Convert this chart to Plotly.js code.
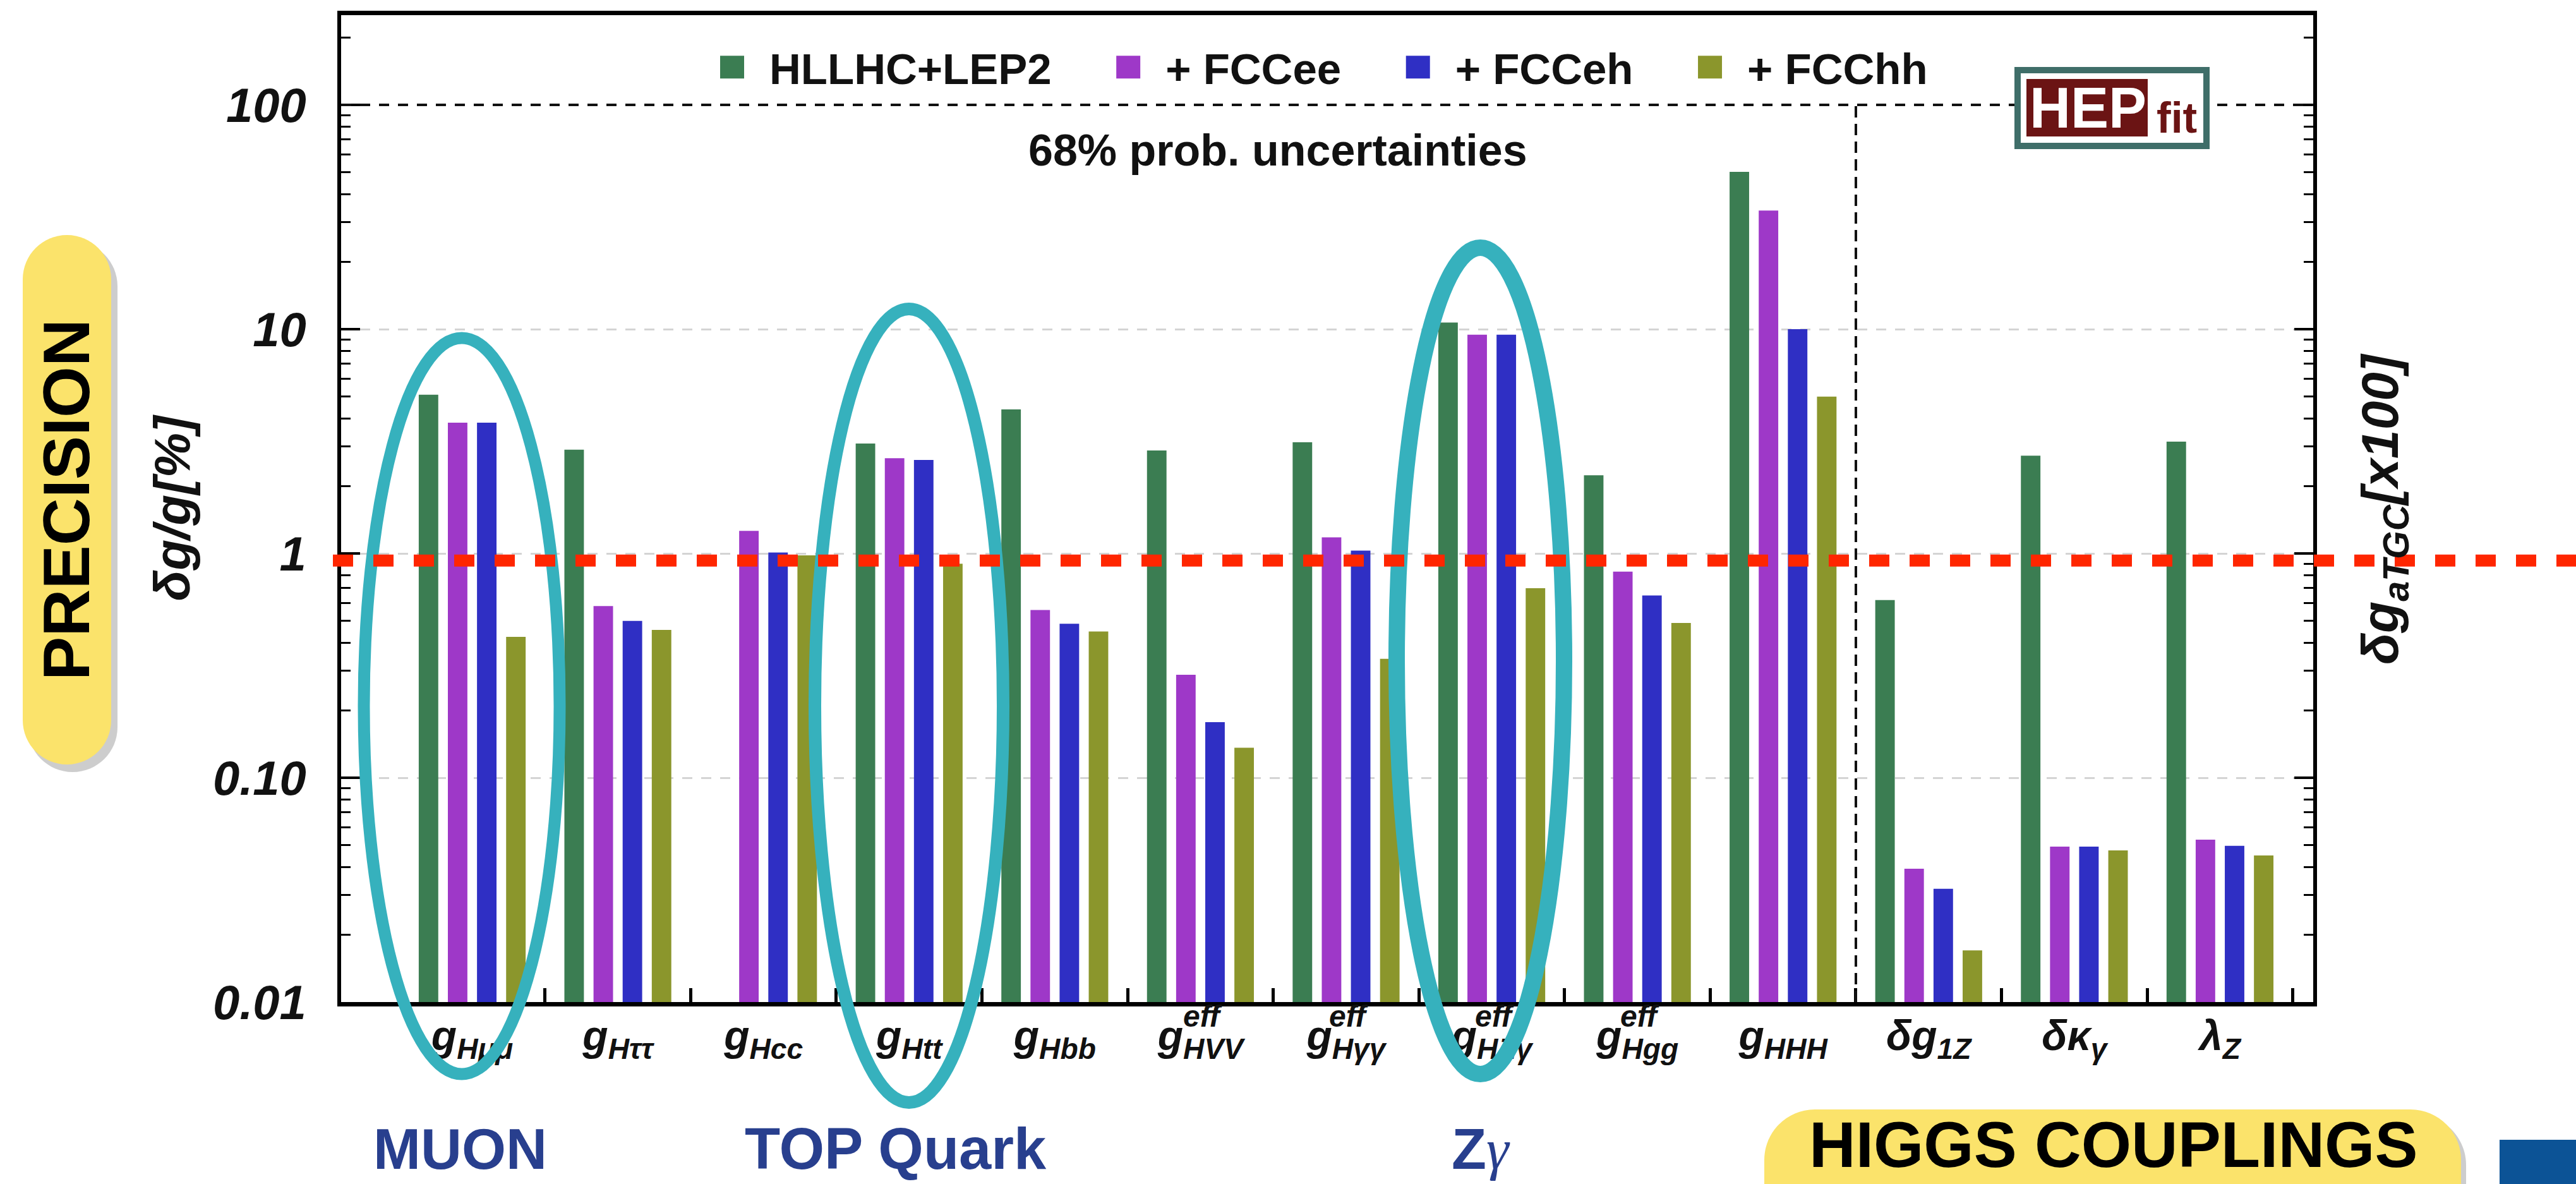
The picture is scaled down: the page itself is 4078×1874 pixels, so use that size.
<!DOCTYPE html>
<html>
<head>
<meta charset="utf-8">
<script src="https://cdn.plot.ly/plotly-3.0.1.min.js"></script>
<style>
html,body{margin:0;padding:0;background:#ffffff;}
#chart{width:4078px;height:1874px;}
</style>
</head>
<body>
<div id="chart"></div>
<script>
// ---------------- data ----------------
const categories = [
  'g<sub>Hμμ</sub>', 'g<sub>Hττ</sub>', 'g<sub>Hcc</sub>', 'g<sub>Htt</sub>', 'g<sub>Hbb</sub>',
  'g<sub>HVV</sub>', 'g<sub>Hγγ</sub>', 'g<sub>HZγ</sub>', 'g<sub>Hgg</sub>', 'g<sub>HHH</sub>',
  'δg<sub>1Z</sub>', 'δκ<sub>γ</sub>', 'λ<sub>Z</sub>'
];
const effLabelIndex = [5, 6, 7, 8];
const seriesNames = ['HLLHC+LEP2', '+ FCCee', '+ FCCeh', '+ FCChh'];
const hllhcLep2 = [5.1, 2.9, null, 3.09, 4.39, 2.88, 3.13, 10.7, 2.23, 50.3, 0.62, 2.73, 3.15];
const fccee     = [3.83, 0.583, 1.26, 2.66, 0.56, 0.288, 1.18, 9.45, 0.83, 33.8, 0.0393, 0.0493, 0.053];
const fcceh     = [3.83, 0.50, 1.01, 2.61, 0.486, 0.177, 1.03, 9.45, 0.65, 10.0, 0.032, 0.0493, 0.0497];
const fcchh     = [0.425, 0.456, 0.98, 0.90, 0.449, 0.136, 0.339, 0.70, 0.49, 5.0, 0.017, 0.0474, 0.045];
const yTickVals = [0.01, 0.1, 1, 10, 100];
const yTickText = ['0.01', '0.10', '1', '10', '100'];
const onePercentLine = 0.93;
const hundredLine = 100;
const tgcBoundary = 9.5;

// ---------------- style ----------------
const FONT = '"Liberation Sans", Arial, Helvetica, sans-serif';
const colors = ['#3b7d52', '#9e38c8', '#2f2fc4', '#8b962c'];
const W = 4078, H = 1874;
const PL = 540, PR = 3662, PT = 24, PB = 1586;
const fx = px => (px - PL) / (PR - PL);
const fy = py => (PB - py) / (PB - PT);
const NBSP = '\u00a0\u00a0\u00a0';

const seriesValues = [hllhcLep2, fccee, fcceh, fcchh];
const data = seriesValues.map((vals, i) => ({
  type: 'bar',
  name: seriesNames[i] + NBSP,
  x: categories,
  y: vals,
  marker: {color: colors[i], line: {width: 0}},
  hoverinfo: 'skip'
}));

// pill shaped path (rounded rect) in paper coords, radius given in px
function pill(x0, y0, x1, y1, r) {
  const X0 = fx(x0), X1 = fx(x1), Y0 = fy(y1), Y1 = fy(y0); // Y0 bottom, Y1 top
  const rx = r / (PR - PL), ry = r / (PB - PT);
  const k = 0.5523;
  return 'M' + X0 + ',' + (Y0 + ry) +
    ' L' + X0 + ',' + (Y1 - ry) +
    ' C' + X0 + ',' + (Y1 - ry + k * ry) + ' ' + (X0 + rx - k * rx) + ',' + Y1 + ' ' + (X0 + rx) + ',' + Y1 +
    ' L' + (X1 - rx) + ',' + Y1 +
    ' C' + (X1 - rx + k * rx) + ',' + Y1 + ' ' + X1 + ',' + (Y1 - ry + k * ry) + ' ' + X1 + ',' + (Y1 - ry) +
    ' L' + X1 + ',' + (Y0 + ry) +
    ' C' + X1 + ',' + (Y0 + ry - k * ry) + ' ' + (X1 - rx + k * rx) + ',' + Y0 + ' ' + (X1 - rx) + ',' + Y0 +
    ' L' + (X0 + rx) + ',' + Y0 +
    ' C' + (X0 + rx - k * rx) + ',' + Y0 + ' ' + X0 + ',' + (Y0 + ry - k * ry) + ' ' + X0 + ',' + (Y0 + ry) + ' Z';
}

const TEAL = '#36b1bd';
const YELLOW = '#fbe36b';
const shapes = [
  // dashed line at 100
  {type: 'line', xref: 'paper', yref: 'y', x0: 0, x1: 1, y0: hundredLine, y1: hundredLine,
   line: {color: '#111', width: 4, dash: '16px,14px'}},
  // vertical separator Higgs / aTGC
  {type: 'line', xref: 'x', yref: 'y', x0: tgcBoundary, x1: tgcBoundary, y0: 0.01, y1: hundredLine,
   line: {color: '#111', width: 4, dash: '18px,10px'}},
  // HEPfit logo
  {type: 'rect', xref: 'paper', yref: 'paper', x0: fx(3194), x1: fx(3493), y0: fy(231), y1: fy(111),
   fillcolor: '#ffffff', line: {color: '#3f6e69', width: 10}},
  {type: 'rect', xref: 'paper', yref: 'paper', x0: fx(3208), x1: fx(3400), y0: fy(216), y1: fy(125),
   fillcolor: '#6b1414', line: {width: 0}},
  // ellipses
  {type: 'circle', xref: 'paper', yref: 'paper', x0: fx(576), x1: fx(886), y0: fy(1700), y1: fy(535),
   line: {color: TEAL, width: 19}},
  {type: 'circle', xref: 'paper', yref: 'paper', x0: fx(1290), x1: fx(1588), y0: fy(1745), y1: fy(489),
   line: {color: TEAL, width: 20}},
  {type: 'circle', xref: 'paper', yref: 'paper', x0: fx(2211), x1: fx(2476), y0: fy(1700), y1: fy(392),
   line: {color: TEAL, width: 26}},
  // red 1% line
  {type: 'line', xref: 'paper', yref: 'y', x0: fx(527), x1: fx(4090), y0: onePercentLine, y1: onePercentLine,
   line: {color: '#ff2600', width: 19, dash: '32px,32px'}},
  // PRECISION pill (shadow + body)
  {type: 'path', xref: 'paper', yref: 'paper', path: pill(44, 382, 186, 1222, 71),
   fillcolor: 'rgba(90,90,90,0.30)', line: {width: 0}},
  {type: 'path', xref: 'paper', yref: 'paper', path: pill(36, 372, 176, 1210, 70),
   fillcolor: YELLOW, line: {width: 0}},
  // HIGGS COUPLINGS pill (shadow + body)
  {type: 'path', xref: 'paper', yref: 'paper', path: pill(2801, 1764, 3904, 1990, 80),
   fillcolor: 'rgba(90,90,90,0.30)', line: {width: 0}},
  {type: 'path', xref: 'paper', yref: 'paper', path: pill(2793, 1756, 3896, 1990, 80),
   fillcolor: YELLOW, line: {width: 0}},
  // blue block bottom right
  {type: 'rect', xref: 'paper', yref: 'paper', x0: fx(3957), x1: fx(4100), y0: fy(1900), y1: fy(1804),
   fillcolor: '#0c5396', line: {width: 0}}
];

const BLUE_TXT = '#283f8e';
const annotations = [
  {text: '68% prob. uncertainties', xref: 'paper', yref: 'paper', x: fx(2023), y: fy(238),
   xanchor: 'center', yanchor: 'middle', showarrow: false,
   font: {family: FONT, size: 70, weight: 'bold', color: '#111'}},
  {text: 'HEP', xref: 'paper', yref: 'paper', x: fx(3305), y: fy(171),
   xanchor: 'center', yanchor: 'middle', showarrow: false,
   font: {family: FONT, size: 90, weight: 'bold', color: '#ffffff'}},
  {text: 'fit', xref: 'paper', yref: 'paper', x: fx(3446), y: fy(186),
   xanchor: 'center', yanchor: 'middle', showarrow: false,
   font: {family: FONT, size: 68, weight: 'bold', color: '#6b1414'}},
  {text: 'PRECISION', xref: 'paper', yref: 'paper', x: fx(105), y: fy(791), textangle: -90,
   xanchor: 'center', yanchor: 'middle', showarrow: false,
   font: {family: FONT, size: 104, weight: 'bold', color: '#000'}},
  {text: 'MUON', xref: 'paper', yref: 'paper', x: fx(728), y: fy(1871),
   xanchor: 'center', yanchor: 'bottom', showarrow: false,
   font: {family: FONT, size: 90, weight: 'bold', color: BLUE_TXT}},
  {text: 'TOP Quark', xref: 'paper', yref: 'paper', x: fx(1418), y: fy(1871),
   xanchor: 'center', yanchor: 'bottom', showarrow: false,
   font: {family: FONT, size: 92, weight: 'bold', color: BLUE_TXT}},
  {text: 'Z<span style="font-family:\'Liberation Serif\',serif;font-style:italic;font-weight:normal">γ</span>',
   xref: 'paper', yref: 'paper', x: fx(2344), y: fy(1871),
   xanchor: 'center', yanchor: 'bottom', showarrow: false,
   font: {family: FONT, size: 90, weight: 'bold', color: BLUE_TXT}},
  {text: 'HIGGS COUPLINGS', xref: 'paper', yref: 'paper', x: fx(3345), y: fy(1871),
   xanchor: 'center', yanchor: 'bottom', showarrow: false,
   font: {family: FONT, size: 102, weight: 'bold', color: '#000'}},
  {text: 'δg<sub>aTGC</sub>[x100]', xref: 'paper', yref: 'paper', x: fx(3774), y: fy(806), textangle: -90,
   xanchor: 'center', yanchor: 'middle', showarrow: false,
   font: {family: FONT, size: 82, weight: 'bold', style: 'italic', color: '#111'}}
];
effLabelIndex.forEach(i => annotations.push({
  text: 'eff', xref: 'x', yref: 'paper', x: categories[i], y: fy(1608), xshift: 4,
  xanchor: 'center', yanchor: 'middle', showarrow: false,
  font: {family: FONT, size: 48, weight: 'bold', style: 'italic', color: '#111'}
}));

const layout = {
  width: W, height: H,
  margin: {l: PL, r: W - PR, t: PT, b: H - PB, pad: 0},
  paper_bgcolor: '#ffffff', plot_bgcolor: '#ffffff',
  barmode: 'group', bargap: 0.2, bargroupgap: 0.33,
  showlegend: true,
  legend: {
    orientation: 'h', x: fx(1100), xanchor: 'left', y: fy(55), yanchor: 'top',
    bgcolor: 'rgba(0,0,0,0)', borderwidth: 0, itemwidth: 108,
    font: {family: FONT, size: 69, weight: 'bold', color: '#111'}, traceorder: 'normal'
  },
  xaxis: {
    type: 'category', categoryorder: 'array', categoryarray: categories,
    range: [-0.9, 12.64], tickson: 'boundaries',
    ticks: 'inside', ticklen: 22, tickwidth: 5, tickcolor: '#000',
    showline: true, linecolor: '#000', linewidth: 7, mirror: true,
    showgrid: false, ticklabelstandoff: -10,
    tickfont: {family: FONT, size: 66, weight: 'bold', style: 'italic', color: '#111'}
  },
  yaxis: {
    type: 'log', range: [-2, 2.40],
    tickmode: 'array', tickvals: yTickVals, ticktext: yTickText,
    ticks: 'inside', ticklen: 30, tickwidth: 4, tickcolor: '#000',
    minor: {ticks: 'inside', ticklen: 15, tickwidth: 3, tickcolor: '#000', dtick: 'D1', showgrid: false},
    showline: true, linecolor: '#000', linewidth: 6, mirror: 'ticks',
    showgrid: true, gridcolor: '#d4d4d4', gridwidth: 3, griddash: '16px,14px',
    ticklabelstandoff: 34,
    tickfont: {family: FONT, size: 76, weight: 'bold', style: 'italic', color: '#111'},
    title: {text: 'δg/g[%]', standoff: 12,
            font: {family: FONT, size: 80, weight: 'bold', style: 'italic', color: '#111'}}
  },
  shapes: shapes,
  annotations: annotations
};

Plotly.newPlot('chart', data, layout, {staticPlot: true, displayModeBar: false}).then(function (gd) {
  gd.querySelectorAll('.legend .legendpoints path').forEach(function (p) {
    p.setAttribute('d', 'M19,18H-19V-18H19Z');
  });
});
</script>
</body>
</html>
